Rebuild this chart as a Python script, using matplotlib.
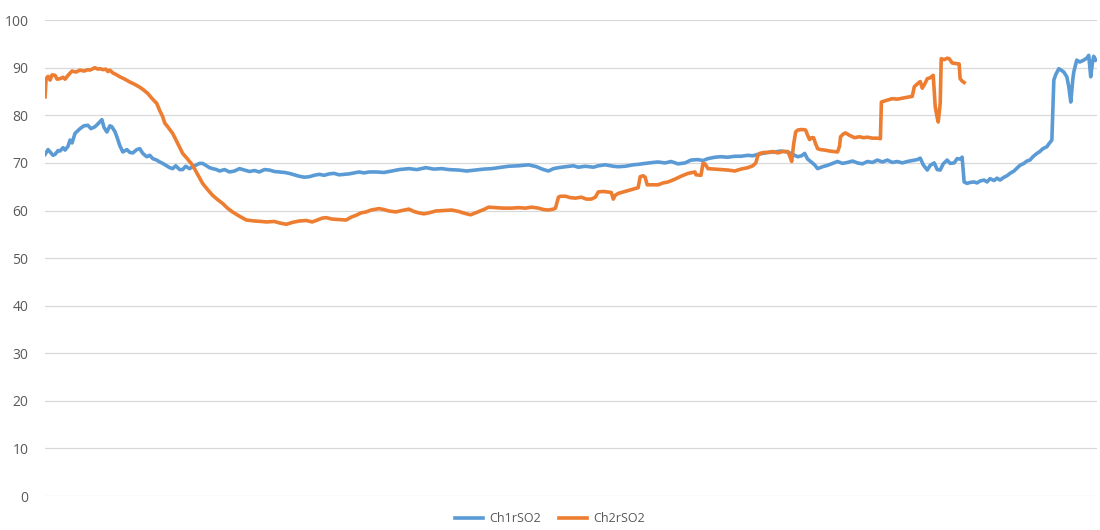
import matplotlib
matplotlib.use("Agg")
import matplotlib.pyplot as plt

plt.rcParams['font.family'] = ['Open Sans', 'DejaVu Sans']

# sample positions (time index) and values
blue_pts = [
    (45,71.8),(48,72.8),(50,72.3),(53,71.6),(55,71.8),(58,72.6),(60,72.5),(63,73.2),(65,72.7),(68,73.5),
    (70,74.8),(72,74.2),(75,76.2),(78,76.8),(80,77.2),(84,77.8),(88,77.9),(91,77.2),(95,77.6),(98,78.2),
    (102,79.1),(104,77.5),(107,76.5),(110,77.8),(112,77.6),(115,76.6),(117,75.5),(120,73.6),(123,72.3),(127,72.8),
    (130,72.2),(133,72.1),(137,72.8),(140,73.0),(143,72.0),(147,71.3),(150,71.6),(153,70.9),(157,70.6),(160,70.2),
    (163,69.9),(167,69.4),(170,69.0),(173,68.8),(176,69.4),(180,68.6),(183,68.6),(186,69.3),(190,68.8),(193,69.2),
    (197,69.6),(200,69.9),(203,69.9),(207,69.4),(210,69.0),(213,68.8),(217,68.6),(220,68.3),(225,68.6),(230,68.1),
    (235,68.3),(240,68.8),(245,68.5),(250,68.2),(255,68.4),(260,68.1),(265,68.6),(270,68.5),(275,68.2),(280,68.1),
    (285,68.0),(290,67.8),(295,67.5),(300,67.2),(305,67.0),(310,67.1),(315,67.4),(320,67.6),(325,67.4),(330,67.7),
    (335,67.8),(340,67.5),(345,67.6),(350,67.7),(355,67.9),(360,68.1),(365,67.9),(370,68.1),(377,68.1),(385,68.0),
    (393,68.3),(400,68.6),(410,68.8),(418,68.6),(427,69.0),(435,68.7),(443,68.8),(450,68.6),(460,68.5),(468,68.3),
    (477,68.5),(485,68.7),(493,68.8),(500,69.0),(510,69.3),(520,69.4),(530,69.6),(538,69.2),(545,68.6),(550,68.3),
    (555,68.8),(560,69.0),(567,69.2),(575,69.4),(580,69.1),(587,69.3),(595,69.1),(600,69.4),(607,69.6),(615,69.3),
    (620,69.2),(627,69.3),(635,69.6),(640,69.7),(647,69.9),(655,70.1),(660,70.2),(667,70.0),(673,70.3),(680,69.8),
    (687,70.0),(693,70.6),(700,70.7),(705,70.5),(710,70.9),(717,71.2),(723,71.3),(730,71.2),(737,71.4),(743,71.4),
    (750,71.6),(755,71.5),(760,71.8),(765,72.0),(770,72.2),(777,72.3),(783,72.5),(790,72.3),(795,71.8),(797,71.6),
    (800,71.3),(804,71.5),(807,72.0),(810,70.8),(813,70.3),(817,69.6),(820,68.8),(825,69.2),(830,69.5),(835,69.9),
    (840,70.3),(845,69.9),(850,70.1),(855,70.4),(860,70.0),(865,69.8),(870,70.3),(875,70.1),(880,70.6),(885,70.2),
    (890,70.6),(895,70.1),(900,70.3),(905,70.0),(910,70.3),(915,70.5),(920,70.7),(923,71.0),(926,69.6),(930,68.5),
    (933,69.5),(937,70.0),(940,68.6),(943,68.5),(946,69.8),(950,70.6),(953,69.9),(957,70.0),(960,70.9),(963,70.8),
    (965,71.2),(967,66.0),(970,65.7),(973,65.9),(977,66.0),(980,65.8),(983,66.2),(987,66.4),(990,66.0),(993,66.7),
    (997,66.3),(1000,66.8),(1003,66.4),(1007,67.0),(1010,67.3),(1013,67.8),(1017,68.3),(1020,68.9),(1023,69.5),(1027,69.9),
    (1030,70.4),(1033,70.6),(1036,71.3),(1040,72.0),(1043,72.4),(1046,73.0),(1050,73.4),(1052,74.0),(1055,74.8),(1057,87.4),
    (1059,88.6),(1062,89.8),(1065,89.4),(1067,89.1),(1070,88.1),(1072,86.0),(1074,82.8),(1076,87.5),(1077,89.1),(1080,91.6),
    (1083,91.2),(1087,91.6),(1090,92.0),(1092,92.6),(1094,88.1),(1096,91.5),(1097,92.4),(1099,91.6),
]
orange_pts = [
    (45,83.9),(46,87.7),(48,88.2),(50,87.4),(52,88.5),(55,88.4),(57,87.6),(60,87.7),(63,88.0),(65,87.6),
    (68,88.4),(72,89.3),(76,89.1),(80,89.5),(84,89.3),(88,89.6),(90,89.5),(93,89.8),(95,90.0),(98,89.7),
    (100,89.8),(103,89.6),(106,89.7),(108,89.2),(110,89.5),(113,88.9),(116,88.6),(120,88.1),(125,87.6),(130,87.0),
    (135,86.5),(140,85.9),(144,85.3),(148,84.6),(152,83.6),(157,82.5),(160,81.0),(163,79.7),(165,78.4),(168,77.6),
    (173,76.2),(178,74.1),(183,72.0),(188,70.8),(193,69.5),(198,67.6),(203,65.7),(208,64.4),(213,63.2),(218,62.3),
    (223,61.5),(228,60.5),(233,59.7),(240,58.8),(247,58.0),(255,57.8),(262,57.7),(267,57.6),(275,57.7),(280,57.4),
    (287,57.1),(293,57.5),(300,57.8),(307,57.9),(313,57.6),(318,58.0),(323,58.4),(327,58.5),(333,58.2),(340,58.1),
    (347,58.0),(352,58.6),(357,59.0),(362,59.5),(367,59.7),(372,60.1),(377,60.3),(380,60.4),(385,60.2),(390,59.9),
    (397,59.7),(403,60.0),(410,60.3),(415,59.8),(420,59.5),(425,59.3),(430,59.5),(437,59.9),(445,60.0),(453,60.1),
    (460,59.8),(466,59.4),(472,59.1),(478,59.6),(485,60.2),(490,60.7),(497,60.6),(505,60.5),(513,60.5),(520,60.6),
    (527,60.5),(533,60.7),(540,60.5),(545,60.2),(550,60.1),(555,60.3),(557,60.5),(560,62.8),(562,63.0),(567,63.0),
    (572,62.7),(577,62.6),(583,62.8),(588,62.4),(593,62.4),(597,62.8),(600,63.9),(605,64.0),(609,63.9),(613,63.8),
    (615,62.4),(617,63.2),(620,63.6),(625,63.9),(630,64.2),(635,64.5),(640,64.8),(642,67.1),(645,67.3),(647,67.0),
    (649,65.4),(655,65.4),(660,65.4),(665,65.8),(670,66.0),(677,66.6),(683,67.2),(690,67.8),(695,68.0),(697,68.1),
    (698,67.5),(703,67.4),(705,69.9),(707,69.8),(710,68.8),(717,68.7),(723,68.6),(730,68.5),(737,68.3),(743,68.7),
    (750,69.0),(755,69.4),(758,70.0),(760,71.5),(762,72.0),(766,72.2),(770,72.2),(775,72.4),(780,72.1),(785,72.4),
    (790,72.4),(792,71.5),(794,70.3),(796,74.0),(798,76.5),(800,76.9),(803,77.0),(806,77.0),(808,76.9),(810,75.8),
    (812,74.9),(814,75.3),(816,75.3),(818,74.0),(820,73.0),(823,72.8),(827,72.7),(832,72.5),(836,72.4),(840,72.3),
    (842,73.5),(843,75.5),(846,76.1),(848,76.3),(852,75.8),(857,75.3),(862,75.5),(866,75.3),(870,75.4),(875,75.2),
    (880,75.2),(883,75.1),(884,82.8),(887,83.0),(890,83.2),(895,83.5),(900,83.4),(905,83.6),(910,83.8),(915,84.0),
    (917,86.0),(920,86.6),(923,87.1),(925,85.7),(928,86.8),(930,87.7),(933,87.9),(936,88.4),(937,85.0),(938,81.8),
    (940,79.5),(941,78.6),(942,80.5),(943,82.5),(944,91.9),(947,91.7),(950,92.0),(952,91.9),(955,91.0),(958,90.9),
    (962,90.8),(963,87.7),(965,87.2),(967,86.9),
]
ch1_x = [p[0] - 45 for p in blue_pts]
ch1_y = [p[1] for p in blue_pts]
ch2_x = [p[0] - 45 for p in orange_pts]
ch2_y = [p[1] for p in orange_pts]

series_names = ["Ch1rSO2", "Ch2rSO2"]
y_ticks = [0, 10, 20, 30, 40, 50, 60, 70, 80, 90, 100]

fig = plt.figure(figsize=(11, 5.3), dpi=100)
ax = fig.add_axes([0.041, 0.064, 0.956, 0.898])
ax.plot(ch1_x, ch1_y, color="#5B9BD5", lw=2.6, label=series_names[0], solid_joinstyle="round")
ax.plot(ch2_x, ch2_y, color="#ED7D31", lw=2.6, label=series_names[1], solid_joinstyle="round")

ax.set_ylim(0, 100)
ax.set_xlim(0, 1055)
ax.set_yticks(y_ticks)
ax.set_xticks([])
ax.grid(axis="y", color="#D9D9D9", lw=0.9)
ax.set_axisbelow(True)
for s in ax.spines.values():
    s.set_visible(False)
ax.tick_params(axis="y", length=0, pad=12, labelsize=10, labelcolor="#595959")

leg = fig.legend(loc="lower center", bbox_to_anchor=(0.5, -0.012), ncol=2, frameon=False,
                 fontsize=9, handlelength=2.2, columnspacing=1.5, handletextpad=0.5)
for t in leg.get_texts():
    t.set_color("#595959")

fig.savefig("out.png", dpi=100)
